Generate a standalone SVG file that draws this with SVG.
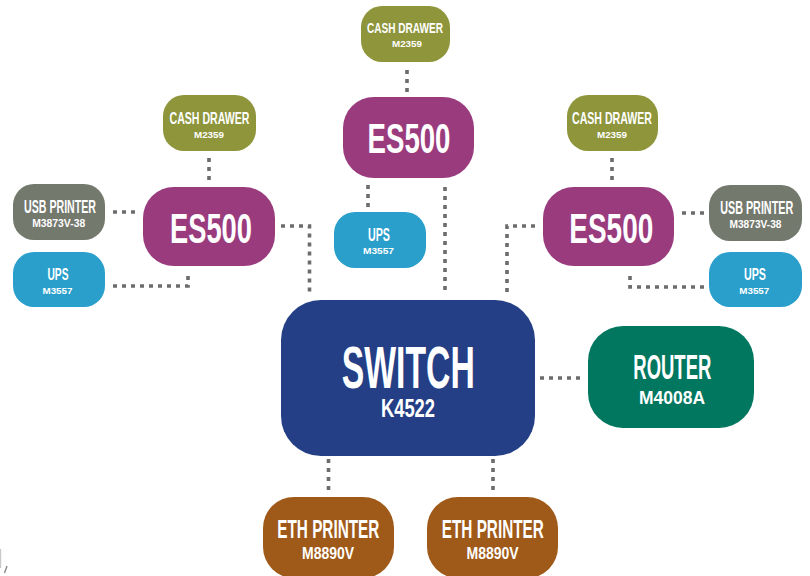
<svg xmlns="http://www.w3.org/2000/svg" width="810" height="576" viewBox="0 0 810 576">
  <style>
    .t { font-family: "Liberation Sans", "DejaVu Sans Condensed", Arial, sans-serif; font-weight: bold; fill: #ffffff; text-anchor: middle; }
    .link { fill: none; stroke: #6b6c6e; stroke-width: 3.6; stroke-dasharray: 4 5; }
    .drawer { fill: #8e953b; }
    .es { fill: #9a3b7e; }
    .usb { fill: #74796e; }
    .ups { fill: #2a9fcb; }
    .switch { fill: #243f86; }
    .router { fill: #017760; }
    .eth { fill: #9f5918; }
  </style>
  <rect width="810" height="576" fill="#ffffff"/>

  <!-- dotted links -->
  <g id="connectors">
    <path class="link" d="M407 70 V92"/>
    <path class="link" d="M368 185 V208"/>
    <path class="link" d="M445 187 V292"/>
    <path class="link" d="M209 158 V182"/>
    <path class="link" d="M113 212 H137"/>
    <path class="link" d="M113 286 H188 V274"/>
    <path class="link" d="M281 226 H309.5 V292"/>
    <path class="link" d="M612 158 V182"/>
    <path class="link" d="M682 213 H706"/>
    <path class="link" d="M704 287 H630 V275"/>
    <path class="link" d="M535 226 H507 V292"/>
    <path class="link" d="M540 378 H582"/>
    <path class="link" d="M328.5 459 V491"/>
    <path class="link" d="M493 459 V491"/>
  </g>

  <!-- centre stack -->
  <g id="drawer-top">
    <rect class="drawer" x="361" y="6" width="89" height="56" rx="21"/>
    <text class="t" x="405" y="32.5" font-size="15.5" textLength="76" lengthAdjust="spacingAndGlyphs">CASH DRAWER</text>
    <text class="t" x="407" y="47" font-size="9" textLength="30" lengthAdjust="spacingAndGlyphs">M2359</text>
  </g>
  <g id="es500-top">
    <rect class="es" x="343" y="97" width="131" height="81" rx="31"/>
    <text class="t" x="409" y="153" font-size="43" textLength="83" lengthAdjust="spacingAndGlyphs">ES500</text>
  </g>
  <g id="ups-top">
    <rect class="ups" x="334" y="212" width="92" height="56" rx="21"/>
    <text class="t" x="379" y="241" font-size="17.5" textLength="22" lengthAdjust="spacingAndGlyphs">UPS</text>
    <text class="t" x="378.5" y="254" font-size="9.3" textLength="31" lengthAdjust="spacingAndGlyphs">M3557</text>
  </g>

  <!-- left stack -->
  <g id="drawer-left">
    <rect class="drawer" x="163" y="95" width="93" height="56" rx="21"/>
    <text class="t" x="209.5" y="124" font-size="17" textLength="80" lengthAdjust="spacingAndGlyphs">CASH DRAWER</text>
    <text class="t" x="209" y="137.5" font-size="9.5" textLength="30" lengthAdjust="spacingAndGlyphs">M2359</text>
  </g>
  <g id="es500-left">
    <rect class="es" x="143" y="187" width="132" height="79" rx="31"/>
    <text class="t" x="211" y="242.5" font-size="43" textLength="82" lengthAdjust="spacingAndGlyphs">ES500</text>
  </g>
  <g id="usb-left">
    <rect class="usb" x="13" y="184" width="92" height="56" rx="21"/>
    <text class="t" x="60" y="212.5" font-size="18" textLength="72" lengthAdjust="spacingAndGlyphs">USB PRINTER</text>
    <text class="t" x="58.7" y="227" font-size="10.5" textLength="53" lengthAdjust="spacingAndGlyphs">M3873V-38</text>
  </g>
  <g id="ups-left">
    <rect class="ups" x="13" y="252" width="92" height="55" rx="21"/>
    <text class="t" x="58" y="280" font-size="17" textLength="21" lengthAdjust="spacingAndGlyphs">UPS</text>
    <text class="t" x="57.5" y="293.5" font-size="9.5" textLength="30" lengthAdjust="spacingAndGlyphs">M3557</text>
  </g>

  <!-- right stack -->
  <g id="drawer-right">
    <rect class="drawer" x="567" y="95" width="91" height="56" rx="21"/>
    <text class="t" x="612" y="124" font-size="17" textLength="80" lengthAdjust="spacingAndGlyphs">CASH DRAWER</text>
    <text class="t" x="612" y="137.5" font-size="9.5" textLength="30" lengthAdjust="spacingAndGlyphs">M2359</text>
  </g>
  <g id="es500-right">
    <rect class="es" x="543" y="187" width="131" height="79" rx="31"/>
    <text class="t" x="611.3" y="242.5" font-size="43" textLength="84" lengthAdjust="spacingAndGlyphs">ES500</text>
  </g>
  <g id="usb-right">
    <rect class="usb" x="709" y="185" width="93" height="56" rx="21"/>
    <text class="t" x="756.7" y="213.5" font-size="18" textLength="73" lengthAdjust="spacingAndGlyphs">USB PRINTER</text>
    <text class="t" x="755.5" y="227.5" font-size="10.5" textLength="52" lengthAdjust="spacingAndGlyphs">M3873V-38</text>
  </g>
  <g id="ups-right">
    <rect class="ups" x="709" y="252" width="93" height="55" rx="21"/>
    <text class="t" x="755" y="280" font-size="17" textLength="22" lengthAdjust="spacingAndGlyphs">UPS</text>
    <text class="t" x="754.3" y="293.5" font-size="9.5" textLength="30" lengthAdjust="spacingAndGlyphs">M3557</text>
  </g>

  <!-- core -->
  <g id="switch">
    <rect class="switch" x="281" y="300" width="254" height="156" rx="40"/>
    <text class="t" x="408.3" y="387.5" font-size="58.5" textLength="133" lengthAdjust="spacingAndGlyphs">SWITCH</text>
    <text class="t" x="408" y="417" font-size="25" textLength="54" lengthAdjust="spacingAndGlyphs">K4522</text>
  </g>
  <g id="router">
    <rect class="router" x="588" y="326" width="166" height="102" rx="35"/>
    <text class="t" x="672.3" y="378.5" font-size="35" textLength="78" lengthAdjust="spacingAndGlyphs">ROUTER</text>
    <text class="t" x="672" y="404" font-size="18" textLength="66" lengthAdjust="spacingAndGlyphs">M4008A</text>
  </g>
  <g id="eth-left">
    <rect class="eth" x="263" y="497" width="131" height="81" rx="31"/>
    <text class="t" x="328.3" y="537.5" font-size="25" textLength="102" lengthAdjust="spacingAndGlyphs">ETH PRINTER</text>
    <text class="t" x="328" y="558.5" font-size="16" textLength="52" lengthAdjust="spacingAndGlyphs">M8890V</text>
  </g>
  <g id="eth-right">
    <rect class="eth" x="427" y="497" width="131" height="81" rx="31"/>
    <text class="t" x="492.8" y="537.5" font-size="25" textLength="102" lengthAdjust="spacingAndGlyphs">ETH PRINTER</text>
    <text class="t" x="492.5" y="558.5" font-size="16" textLength="52" lengthAdjust="spacingAndGlyphs">M8890V</text>
  </g>

  <!-- stray marks at the lower left edge -->
  <path d="M0.6 549 V568" stroke="#c8c8c8" stroke-width="1.2" fill="none"/>
  <path d="M7 566 L4.5 573" stroke="#8a8a8a" stroke-width="1.4" fill="none"/>
</svg>
